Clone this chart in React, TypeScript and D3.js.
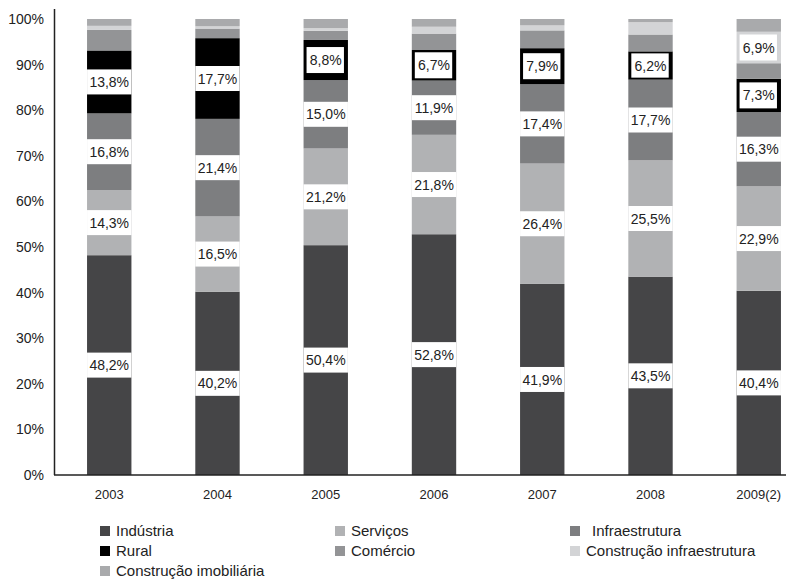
import React from "react";
import * as d3 from "d3";

const years = ["2003", "2004", "2005", "2006", "2007", "2008", "2009(2)"];
const seriesNames = [
  "Indústria",
  "Serviços",
  "Infraestrutura",
  "Rural",
  "Comércio",
  "Construção infraestrutura",
  "Construção imobiliária",
];
const industria = [48.2, 40.2, 50.4, 52.8, 41.9, 43.5, 40.4];
const servicos = [14.3, 16.5, 21.2, 21.8, 26.4, 25.5, 22.9];
const infraestrutura = [16.8, 21.4, 15.0, 11.9, 17.4, 17.7, 16.3];
const rural = [13.8, 17.7, 8.8, 6.7, 7.9, 6.2, 7.3];
const comercio = [4.5, 2.1, 2.0, 3.6, 3.9, 3.7, 3.4];
const construcaoInfra = [0.9, 0.5, 0.6, 1.5, 1.1, 2.7, 6.9];
const construcaoImob = [1.5, 1.6, 2.0, 1.7, 1.4, 0.7, 2.8];
const yTicks = [0, 10, 20, 30, 40, 50, 60, 70, 80, 90, 100];

const colors = ["#454547", "#b1b2b4", "#7d7e80", "#000000", "#939496", "#d3d4d6", "#a9aaac"];
const legendOrder = [
  ["Indústria", "Serviços", "Infraestrutura"],
  ["Rural", "Comércio", "Construção infraestrutura"],
  ["Construção imobiliária"],
];

const W = 802;
const H = 580;
const FONT = "'Liberation Sans', Arial, sans-serif";

export default function App() {
  const allSeries = [industria, servicos, infraestrutura, rural, comercio, construcaoInfra, construcaoImob];
  const rows = years.map((y, i) => {
    const r: any = { year: y };
    seriesNames.forEach((s, k) => (r[s] = allSeries[k][i]));
    return r;
  });
  const stacked = d3.stack<any>().keys(seriesNames)(rows);

  const x = d3.scaleBand<string>().domain(years).range([55, 813]).paddingInner(0.59).paddingOuter(0.296);
  const y = d3.scaleLinear().domain([0, 100]).range([475, 19]);
  const bw = x.bandwidth();
  const fmt = (v: number) => d3.format(".1f")(v).replace(".", ",") + "%";

  const labels: any[] = [];
  stacked.forEach((layer, k) => {
    layer.forEach((d, i) => {
      const v = d[1] - d[0];
      if (v < 5) return;
      const x0 = x(years[i]) as number;
      const top = y(d[1]);
      const bot = y(d[0]);
      const mid = (top + bot) / 2;
      const segH = bot - top;
      labels.push({ key: `${k}-${i}`, x0, mid, segH, v, band: v >= 10 });
    });
  });

  return (
    <svg width={W} height={H} style={{ position: "absolute", left: 0, top: 0, background: "#fff" }}>
      {stacked.map((layer, k) => (
        <g key={seriesNames[k]} fill={colors[k]}>
          {layer.map((d, i) => (
            <rect
              key={i}
              x={x(years[i])}
              y={y(d[1])}
              width={bw}
              height={Math.max(0, y(d[0]) - y(d[1]))}
            />
          ))}
        </g>
      ))}
      {labels.map((l) => {
        const bh = l.band ? 25 : Math.min(26, l.segH - 4);
        const bx = l.band ? l.x0 : l.x0 + 3;
        const bwid = l.band ? bw : bw - 7;
        return (
          <g key={l.key}>
            <rect x={bx} y={l.mid - bh / 2} width={bwid} height={bh} fill="#fff" />
            <text
              x={l.x0 + bw / 2}
              y={l.mid}
              dy="0.36em"
              textAnchor="middle"
              fontFamily={FONT}
              fontSize={14}
              fill="#222"
            >
              {fmt(l.v)}
            </text>
          </g>
        );
      })}
      <line x1={54.5} x2={54.5} y1={9} y2={475} stroke="#222" strokeWidth={1.5} />
      <line x1={54} x2={786} y1={475} y2={475} stroke="#222" strokeWidth={1.6} />
      {yTicks.map((t) => (
        <text
          key={t}
          x={44}
          y={y(t)}
          dy="0.36em"
          textAnchor="end"
          fontFamily={FONT}
          fontSize={14}
          fill="#222"
        >
          {t}%
        </text>
      ))}
      {years.map((yr) => (
        <text
          key={yr}
          x={(x(yr) as number) + bw / 2}
          y={494}
          dy="0.36em"
          textAnchor="middle"
          fontFamily={FONT}
          fontSize={13}
          fill="#222"
        >
          {yr}
        </text>
      ))}
      {legendOrder.map((row, r) =>
        row.map((name, c) => {
          const k = seriesNames.indexOf(name);
          const lx = [100, 335, 570][c];
          const ly = 531 + r * 20;
          return (
            <g key={name}>
              <rect x={lx} y={ly - 5} width={10} height={10} fill={colors[k]} />
              <text
                x={lx + (name === "Infraestrutura" ? 22 : 16)}
                y={ly}
                dy="0.36em"
                fontFamily={FONT}
                fontSize={15}
                fill="#222"
              >
                {name}
              </text>
            </g>
          );
        })
      )}
    </svg>
  );
}
